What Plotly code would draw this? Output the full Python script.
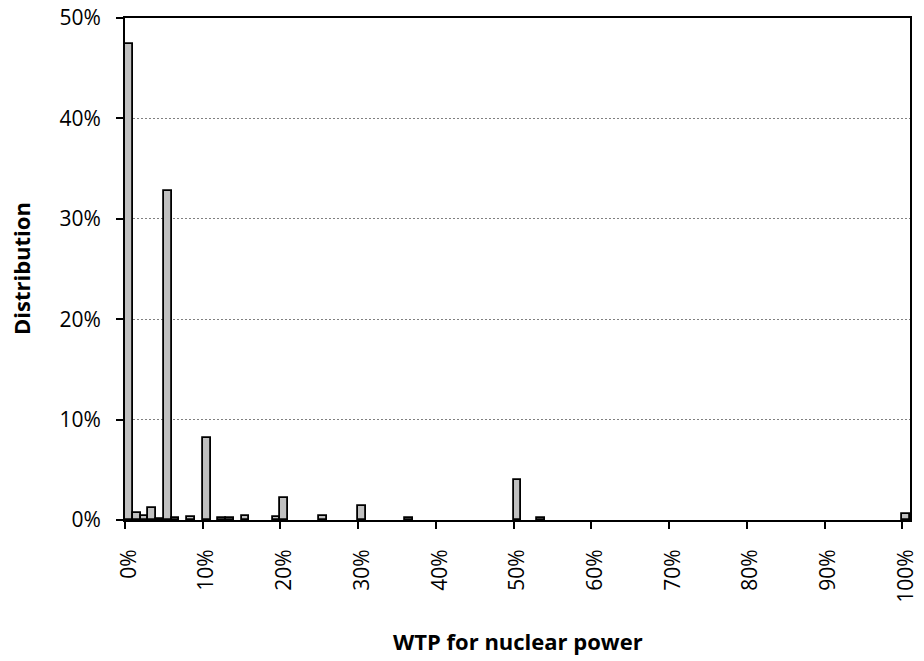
import plotly.graph_objects as go

# WTP level (%) with a non-empty share, and the share of respondents (%)
wtp_levels = [0, 1, 2, 3, 4, 5, 6, 8, 10, 12, 13, 15, 19, 20, 25, 30, 36, 50, 53, 100]
share_pct = [47.4, 0.72, 0.35, 1.15, 0.12, 32.8, 0.2, 0.25, 8.2, 0.2, 0.2, 0.4,
             0.25, 2.2, 0.4, 1.4, 0.2, 4.0, 0.2, 0.6]

x_tick_values = [0, 10, 20, 30, 40, 50, 60, 70, 80, 90, 100]
x_tick_labels = ["0%", "10%", "20%", "30%", "40%", "50%", "60%", "70%", "80%", "90%", "100%"]
y_tick_values = [0, 10, 20, 30, 40, 50]
y_tick_labels = ["0%", "10%", "20%", "30%", "40%", "50%"]

FONT = "Open Sans"
TICK_SIZE = 21
TITLE_SIZE = 22

fig = go.Figure()
fig.add_trace(go.Bar(
    x=wtp_levels, y=share_pct, width=1,
    marker=dict(color="#c0c0c0", line=dict(color="black", width=1.8)),
    hoverinfo="skip",
))

fig.update_layout(
    width=924, height=661,
    margin=dict(l=125, r=14, t=18, b=141),
    paper_bgcolor="white", plot_bgcolor="white",
    showlegend=False,
    font=dict(family=FONT, size=TICK_SIZE, color="black"),
    bargap=0,
    xaxis=dict(
        automargin=False,
        range=[-0.5, 100.5],
        tickvals=x_tick_values, ticktext=x_tick_labels,
        tickangle=-90, ticks="",
        ticklabelstandoff=19, ticklabeloverflow="allow",
        tickfont=dict(family=FONT, size=TICK_SIZE, color="black"),
        showline=True, linecolor="black", linewidth=2, mirror=True,
        showgrid=False, zeroline=False,
        minor=dict(tickvals=[v - 0.5 for v in x_tick_values], ticks="outside",
                   ticklen=7, tickwidth=2, tickcolor="black", showgrid=False),
    ),
    yaxis=dict(
        automargin=False,
        range=[0, 50],
        tickvals=y_tick_values, ticktext=y_tick_labels,
        ticks="outside", ticklen=7, tickwidth=2, tickcolor="black",
        ticklabelstandoff=11, ticklabeloverflow="allow",
        tickfont=dict(family=FONT, size=TICK_SIZE, color="black"),
        showline=True, linecolor="black", linewidth=2, mirror=True,
        showgrid=True, gridcolor="#808080", gridwidth=1, griddash="2px,2px",
        zeroline=False,
    ),
    annotations=[
        dict(text="<b>WTP for nuclear power</b>", xref="paper", yref="paper",
             x=0.5, y=0, xanchor="center", yanchor="middle", yshift=-121,
             showarrow=False, font=dict(family=FONT, size=TITLE_SIZE, color="black")),
        dict(text="<b>Distribution</b>", xref="paper", yref="paper",
             x=0, y=0.5, xanchor="center", yanchor="middle", xshift=-104,
             textangle=-90, showarrow=False,
             font=dict(family=FONT, size=TITLE_SIZE, color="black")),
    ],
)

fig.write_html("out.html", config={"displayModeBar": False},
               post_script="document.body.style.margin='0';")
